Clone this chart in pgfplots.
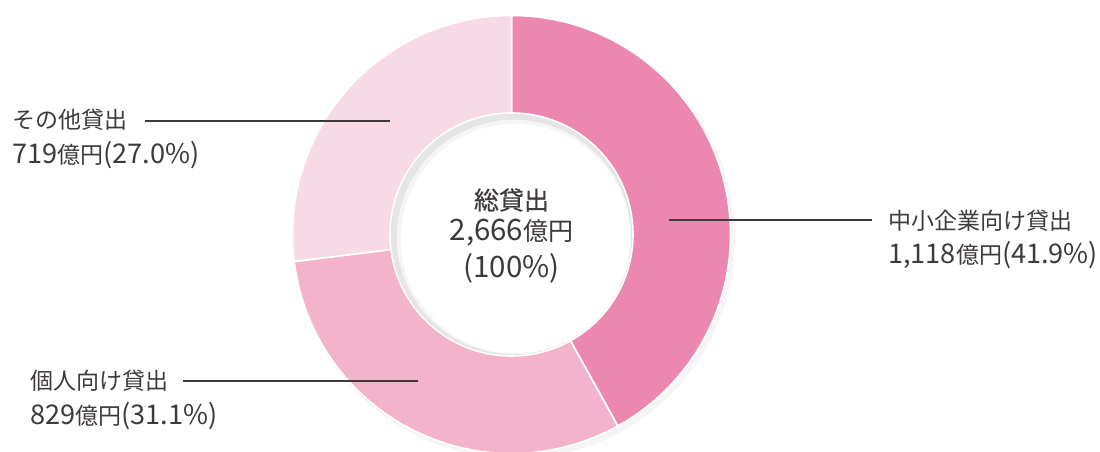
\documentclass[border=0pt]{standalone}
\usepackage{pgfplots}
\pgfplotsset{compat=1.18}
\usepackage{pgfplotstable}
\usepackage{fontspec}
\setmainfont{Noto Sans CJK JP}[Scale=1.18]
\newfontfamily\jp{Noto Sans CJK JP}
\newfontfamily\jpmed[FakeBold=0.6]{Noto Sans CJK JP}
\definecolor{txt}{HTML}{3E3A39}
\definecolor{cA}{HTML}{EC88AF}
\definecolor{cB}{HTML}{F2B3CB}
\definecolor{cC}{HTML}{F8D9E6}
\pgfplotstableread{
label value
SME 1118
Personal 829
Other 719
}\loans
\begin{document}
\begin{tikzpicture}[lab/.style={inner sep=0pt,text=txt,anchor=west,font=\fontsize{23}{27}\selectfont}]
\pgfplotstablegetelem{0}{value}\of\loans \let\vA\pgfplotsretval
\pgfplotstablegetelem{1}{value}\of\loans \let\vB\pgfplotsretval
\pgfplotstablegetelem{2}{value}\of\loans \let\vC\pgfplotsretval
\pgfmathsetmacro{\tot}{\vA+\vB+\vC}
\pgfmathsetmacro{\aA}{90}
\pgfmathsetmacro{\aB}{\aA-\vA/\tot*360}
\pgfmathsetmacro{\aC}{\aB-\vB/\tot*360}
\pgfmathsetmacro{\aD}{\aC-\vC/\tot*360}
\def\ro{219}\def\ri{121.5}\def\rw{97.5}
\begin{axis}[x=1pt,y=1pt,xmin=0,xmax=1100,ymin=0,ymax=452,hide axis,clip=true,anchor=origin,at={(0,0)}]
% outer shadow
\fill[black!9] (axis cs:514,214.5) circle[radius=220pt];
\fill[black!4] (axis cs:516,212.5) circle[radius=219pt];
% slices
\fill[cA,draw=white,line width=1.6pt,line join=round] (axis cs:511.5,217.5) ++(\aA:\ro pt) arc[start angle=\aA,end angle=\aB,radius=\ro pt] -- ++(\aB+180:\rw pt) arc[start angle=\aB,end angle=\aA,radius=\ri pt] -- cycle;
\fill[cB,draw=white,line width=1.6pt,line join=round] (axis cs:511.5,217.5) ++(\aB:\ro pt) arc[start angle=\aB,end angle=\aC,radius=\ro pt] -- ++(\aC+180:\rw pt) arc[start angle=\aC,end angle=\aB,radius=\ri pt] -- cycle;
\fill[cC,draw=white,line width=1.6pt,line join=round] (axis cs:511.5,217.5) ++(\aC:\ro pt) arc[start angle=\aC,end angle=\aD,radius=\ro pt] -- ++(\aD+180:\rw pt) arc[start angle=\aD,end angle=\aC,radius=\ri pt] -- cycle;
% hole
\fill[white] (axis cs:511.5,217.5) circle[radius=120.7pt];
% inner shadow crescent
\fill[black!10,even odd rule] (axis cs:511.5,217.5) circle[radius=120.7pt] (axis cs:514,215) circle[radius=117pt];
\fill[black!4,even odd rule] (axis cs:514,215) circle[radius=117pt] (axis cs:515.5,213.5) circle[radius=115pt];
% leader lines
\draw[txt,line width=1.1pt] (axis cs:145,331) -- (axis cs:390,331);
\draw[txt,line width=1.1pt] (axis cs:669,232) -- (axis cs:872,232);
\draw[txt,line width=1.1pt] (axis cs:183,71) -- (axis cs:418,71);
% labels
\node[lab] at (axis cs:12,332) {\jp その他貸出};
\node[lab] at (axis cs:12,297) {719{\jp 億円}(27.0\%)};
\node[lab] at (axis cs:888,231) {\jp 中小企業向け貸出};
\node[lab] at (axis cs:888,197) {1,118{\jp 億円}(41.9\%)};
\node[lab] at (axis cs:30,71) {\jp 個人向け貸出};
\node[lab] at (axis cs:30,36) {829{\jp 億円}(31.1\%)};
% center
\node[lab,anchor=center,font=\jpmed\fontsize{25}{29}\selectfont] at (axis cs:511.5,252) {総貸出};
\node[lab,anchor=center,font=\fontsize{25}{29}\selectfont] at (axis cs:511.5,219) {2,666{\jp 億円}};
\node[lab,anchor=center,font=\fontsize{25}{29}\selectfont] at (axis cs:511.5,184) {(100\%)};
\end{axis}
\pgfresetboundingbox
\useasboundingbox (0,0) rectangle (1100pt,452pt);
\end{tikzpicture}
\end{document}
